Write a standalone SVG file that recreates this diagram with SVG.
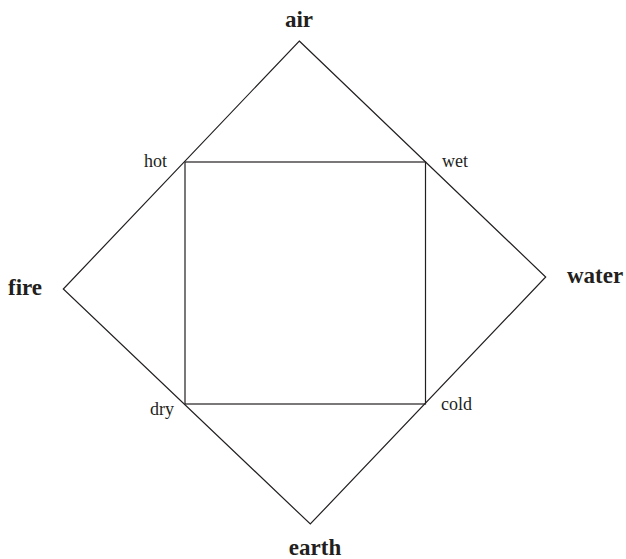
<svg xmlns="http://www.w3.org/2000/svg" width="626" height="559" viewBox="0 0 626 559">
<style>
.ln{fill:none;stroke:#231f20;stroke-width:1.2}
.big{font-family:"Liberation Serif",serif;font-weight:bold;font-size:23px;fill:#231f20}
.sm{font-family:"Liberation Serif",serif;font-size:18px;fill:#231f20}
</style>
<rect width="626" height="559" fill="#fff"/>
<g id="connectors">
<polygon class="ln" points="299.3,41 545.7,277 310.3,524 63.3,289"/>
<rect class="ln" x="185" y="162" width="240.5" height="242"/>
</g>
<g id="air"><text class="big" x="299" y="27" text-anchor="middle">air</text></g>
<g id="fire"><text class="big" x="8" y="295">fire</text></g>
<g id="water"><text class="big" x="567" y="283">water</text></g>
<g id="earth"><text class="big" x="315" y="555" text-anchor="middle">earth</text></g>
<g id="hot"><text class="sm" x="144" y="167">hot</text></g>
<g id="wet"><text class="sm" x="442" y="167">wet</text></g>
<g id="dry"><text class="sm" x="150" y="415">dry</text></g>
<g id="cold"><text class="sm" x="441" y="410">cold</text></g>
</svg>
